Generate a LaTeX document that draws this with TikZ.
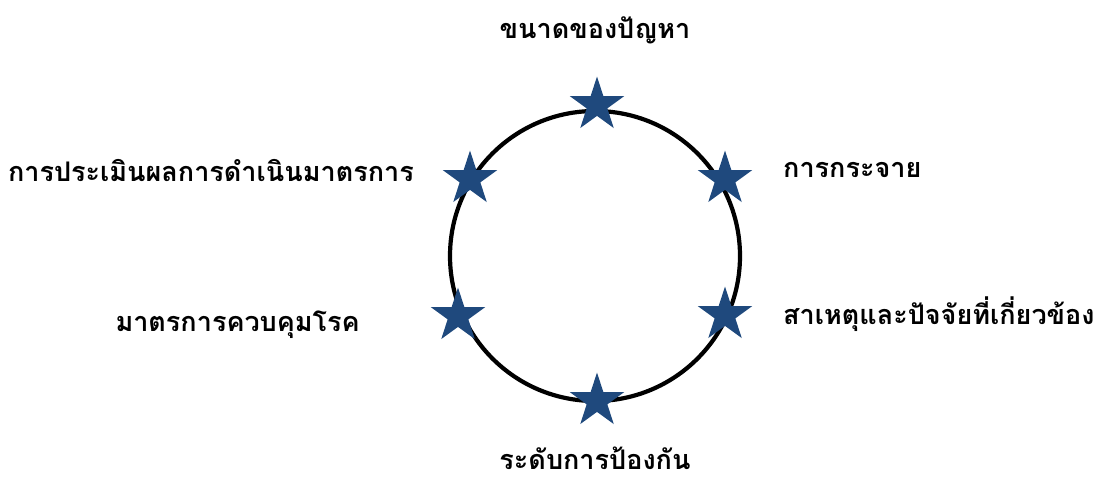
\documentclass[tikz,border=0pt]{standalone}
\usepackage{fontspec}
\newfontfamily\thaifont[Script=Thai]{Loma}
\usetikzlibrary{shapes.geometric}
\definecolor{starblue}{RGB}{31,73,125}
\tikzset{
  lbl/.style={font=\thaifont\bfseries\fontsize{27}{32}\selectfont, inner sep=0pt},
  starmark/.style={star, star points=5, star point ratio=2.618, fill=starblue, draw=none, minimum size=57pt, inner sep=0pt}
}
\begin{document}
\begin{tikzpicture}[x=1pt,y=-1pt]
\useasboundingbox (0,0) rectangle (1105,477);
\node[draw=black, line width=4.2pt, circle, minimum size=290pt, inner sep=0pt] (c) at (595,256) {};
\node[starmark] (s1) at (597,105) {};
\node[starmark] (s2) at (725,179) {};
\node[starmark] (s3) at (725,315) {};
\node[starmark] (s4) at (597,401) {};
\node[starmark] (s5) at (458,316) {};
\node[starmark] (s6) at (470,179) {};
\node[lbl] (t1) at (595,30) {ขนาดของปัญหา};
\node[lbl, anchor=east] (t2) at (414,170) {การประเมินผลการดำเนินมาตรการ};
\node[lbl, anchor=west] (t3) at (783,170) {การกระจาย};
\node[lbl, anchor=west] (t4) at (783,314) {สาเหตุและปัจจัยที่เกี่ยวข้อง};
\node[lbl, anchor=east] (t5) at (360,325) {มาตรการควบคุมโรค};
\node[lbl, anchor=base, text depth=3pt] (t6) at (595,469) {ระดับการป้องกัน};
\end{tikzpicture}
\end{document}
